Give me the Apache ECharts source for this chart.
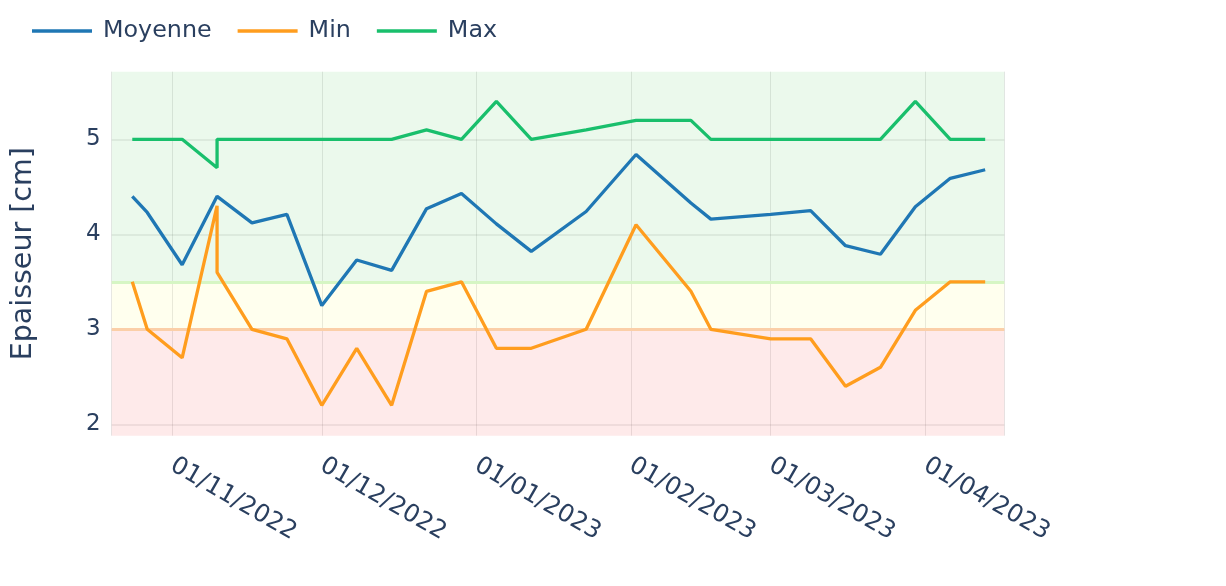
<!DOCTYPE html>
<html>
<head>
<meta charset="utf-8">
<script src="https://cdn.jsdelivr.net/npm/echarts@6/dist/echarts.min.js"></script>
<style>
  html, body { margin: 0; padding: 0; background: #fff; }
  #chart { width: 1226px; height: 586px; }
</style>
</head>
<body>
<div id="chart"></div>
<script>
// dates des mesures (deux mesures le 10/11)
const dates = [
  "2022-10-24", "2022-10-27", "2022-11-03", "2022-11-10", "2022-11-10",
  "2022-11-17", "2022-11-24", "2022-12-01", "2022-12-08", "2022-12-15",
  "2022-12-22", "2022-12-29", "2023-01-05", "2023-01-12", "2023-01-23",
  "2023-02-02", "2023-02-13", "2023-02-17", "2023-03-01", "2023-03-09",
  "2023-03-16", "2023-03-23", "2023-03-30", "2023-04-06", "2023-04-13",
];
const moyenne = [
  4.40, 4.23, 3.68, 4.40, 4.40, 4.12, 4.21, 3.25, 3.73, 3.62,
  4.27, 4.43, 4.11, 3.82, 4.24, 4.84, 4.33, 4.16, 4.21, 4.25,
  3.88, 3.79, 4.29, 4.59, 4.68,
];
const minVals = [
  3.5, 3.0, 2.7, 4.3, 3.6, 3.0, 2.9, 2.2, 2.8, 2.2,
  3.4, 3.5, 2.8, 2.8, 3.0, 4.1, 3.4, 3.0, 2.9, 2.9,
  2.4, 2.6, 3.2, 3.5, 3.5,
];
const maxVals = [
  5.0, 5.0, 5.0, 4.7, 5.0, 5.0, 5.0, 5.0, 5.0, 5.0,
  5.1, 5.0, 5.4, 5.0, 5.1, 5.2, 5.2, 5.0, 5.0, 5.0,
  5.0, 5.0, 5.4, 5.0, 5.0,
];
const yTicks = [2, 3, 4, 5];
// seuils des zones
const seuilRouge = 3;
const seuilJaune = 3.5;
const xRange = ["2022-10-19 21:00", "2023-04-16 20:00"];
const yRange = [1.88, 5.712];

const textColor = "#2a3f5f";
const font = "DejaVu Sans";
const DAY = 24 * 3600 * 1000;

const toTime = (s) => echarts.number.parseDate(s).getTime();
const pad = (n) => (n < 10 ? "0" + n : "" + n);
const fmtDate = (v) => {
  const d = new Date(v);
  return pad(d.getDate()) + "/" + pad(d.getMonth() + 1) + "/" + d.getFullYear();
};
const pairs = (vals) => vals.map((v, i) => [dates[i], v]);

const lineSeries = (name, vals, color) => ({
  name: name,
  type: "line",
  data: pairs(vals),
  symbol: "none",
  smooth: false,
  lineStyle: { width: 3.3, color: color },
  itemStyle: { color: color },
  z: 5,
});

const chart = echarts.init(document.getElementById("chart"), null, { renderer: "canvas" });

const series = [
  lineSeries("Moyenne", moyenne, "#1f77b4"),
  lineSeries("Min", minVals, "#ff9d1e"),
  lineSeries("Max", maxVals, "#19bf6c"),
];

// zones de couleur + lignes de seuil
series[0].markArea = {
  silent: true,
  z: 1,
  data: [
    [{ yAxis: yRange[0], itemStyle: { color: "rgba(250,50,50,0.1)" } }, { yAxis: seuilRouge }],
    [{ yAxis: seuilRouge, itemStyle: { color: "rgba(255,255,90,0.1)" } }, { yAxis: seuilJaune }],
    [{ yAxis: seuilJaune, itemStyle: { color: "rgba(60,200,70,0.1)" } }, { yAxis: yRange[1] }],
  ],
};
series[0].markLine = {
  silent: true,
  symbol: "none",
  label: { show: false },
  z: 2,
  data: [
    { yAxis: seuilRouge, lineStyle: { color: "#fbcfa8", width: 3, type: "solid" } },
    { yAxis: seuilJaune, lineStyle: { color: "#d6f6c4", width: 3, type: "solid" } },
  ],
};

chart.setOption({
  backgroundColor: "#fff",
  animation: false,
  textStyle: { fontFamily: font, color: textColor },
  legend: {
    data: ["Moyenne", "Min", "Max"],
    left: 27,
    top: 14,
    icon: "rect",
    itemWidth: 60,
    itemHeight: 3.5,
    itemGap: 26,
    textStyle: { fontFamily: font, fontSize: 23.8, color: textColor, padding: [0, 0, 0, 6] },
  },
  grid: {
    left: 111.7,
    right: 221.7,
    top: 71.7,
    bottom: 150.3,
    outerBoundsMode: "none",
  },
  xAxis: {
    type: "time",
    min: toTime(xRange[0]),
    max: toTime(xRange[1]),
    minInterval: 28 * DAY,
    maxInterval: 31 * DAY,
    axisLine: { show: false },
    axisTick: { show: false },
    axisLabel: {
      formatter: (v) => fmtDate(v),
      rotate: -30,
      margin: 28,
      hideOverlap: false,
      fontFamily: font,
      fontSize: 24.5,
      color: textColor,
    },
    splitLine: { show: true, lineStyle: { color: "rgba(110,110,110,0.17)", width: 1 } },
  },
  yAxis: {
    type: "value",
    min: yRange[0],
    max: yRange[1],
    name: "Epaisseur [cm]",
    nameLocation: "middle",
    nameRotate: 90,
    nameGap: 74,
    nameTextStyle: { fontFamily: font, fontSize: 28.5, color: textColor },
    axisLine: { show: false },
    axisTick: { show: false, customValues: yTicks },
    axisLabel: {
      customValues: yTicks,
      margin: 11,
      fontFamily: font,
      fontSize: 23,
      color: textColor,
    },
    splitLine: { show: true, lineStyle: { color: "rgba(110,110,110,0.15)", width: 1.5 } },
  },
  series: series,
});
</script>
</body>
</html>
